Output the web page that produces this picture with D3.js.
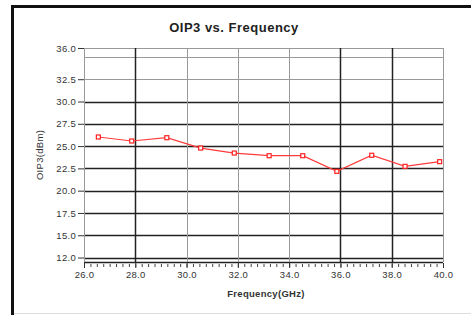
<!DOCTYPE html>
<html>
<head>
<meta charset="utf-8">
<script src="https://cdn.jsdelivr.net/npm/d3@7"></script>
<style>
html,body{margin:0;padding:0;background:#fff;}
svg{display:block;font-family:"Liberation Sans",Arial,sans-serif;}
</style>
</head>
<body>
<svg id="c" width="471" height="315"></svg>
<script>
// ---- data ----
const frequency = [26.56, 27.86, 29.23, 30.55, 31.86, 33.22, 34.53, 35.86, 37.22, 38.52, 39.87];
const oip3 = [26.02, 25.57, 25.94, 24.78, 24.22, 23.92, 23.92, 22.17, 23.97, 22.73, 23.25];
const xTickValues = [26, 28, 30, 32, 34, 36, 38, 40];
const xTickLabels = ["26.0", "28.0", "30.0", "32.0", "34.0", "36.0", "38.0", "40.0"];
const yTickValues = [12.5, 15, 17.5, 20, 22.5, 25, 27.5, 30, 32.5, 36];
const yTickLabels = ["12.0", "15.0", "17.5", "20.0", "22.5", "25.0", "27.5", "30.0", "32.5", "36.0"];
const darkVertical = [28, 36, 38];
const darkHorizontal = [12, 12.5, 15, 17.5, 20, 22.5, 25, 27.5, 30];
const extraHorizontal = [12, 35];
const title = "OIP3 vs. Frequency";
const xTitle = "Frequency(GHz)";
const yTitle = "OIP3(dBm)";

const svg = d3.select("#c");
const x = d3.scaleLinear().domain([26, 40]).range([84, 443]);
const y = d3.scaleLinear().domain([12, 36]).range([262, 48]);

// outer frame
svg.append("line").attr("x1", 12.5).attr("x2", 12.5).attr("y1", 5).attr("y2", 315)
  .attr("stroke", "#111").attr("stroke-width", 3);
svg.append("line").attr("x1", 11).attr("x2", 471).attr("y1", 6.5).attr("y2", 6.5)
  .attr("stroke", "#111").attr("stroke-width", 3);
svg.append("line").attr("x1", 14).attr("x2", 471).attr("y1", 313.5).attr("y2", 313.5)
  .attr("stroke", "#ddd").attr("stroke-width", 1);

// title
svg.append("text").attr("x", 234).attr("y", 32).attr("text-anchor", "middle")
  .attr("font-size", 13).attr("font-weight", "bold").attr("letter-spacing", 0.5)
  .attr("fill", "#222").text(title);

// horizontal grid
const hLines = yTickValues.concat(extraHorizontal);
svg.append("g").selectAll("line").data(hLines).join("line")
  .attr("x1", x(26)).attr("x2", x(40))
  .attr("y1", d => Math.round(y(d)) + 0.5).attr("y2", d => Math.round(y(d)) + 0.5)
  .attr("stroke", d => darkHorizontal.includes(d) ? "#222" : "#999")
  .attr("stroke-width", d => darkHorizontal.includes(d) ? 1.5 : 1);

// vertical grid
svg.append("g").selectAll("line").data(xTickValues).join("line")
  .attr("x1", d => Math.round(x(d)) + 0.5).attr("x2", d => Math.round(x(d)) + 0.5)
  .attr("y1", y(36)).attr("y2", y(12))
  .attr("stroke", d => darkVertical.includes(d) ? "#222" : "#999")
  .attr("stroke-width", d => darkVertical.includes(d) ? 1.5 : 1);

// y axis ticks + labels
const yAxis = d3.axisLeft(y).tickValues(yTickValues).tickSize(6).tickPadding(2)
  .tickFormat((d, i) => yTickLabels[i]);
const gy = svg.append("g").attr("transform", `translate(${x(26)},0)`).call(yAxis);
gy.select(".domain").remove();
gy.selectAll("line").attr("stroke", "#333");
gy.selectAll("text").attr("font-size", 9.5).attr("letter-spacing", 0.3).attr("fill", "#333")
  .attr("font-family", "Liberation Sans, Arial, sans-serif");

// x axis minor ticks
const minor = d3.range(26, 40.001, 0.25);
const xMinor = d3.axisBottom(x).tickValues(minor).tickSize(3).tickFormat("");
const gxm = svg.append("g").attr("transform", `translate(0,${y(12) + 2})`).call(xMinor);
gxm.select(".domain").remove();
gxm.selectAll("line").attr("stroke", "#444");

// x axis major ticks + labels
const xAxis = d3.axisBottom(x).tickValues(xTickValues).tickSize(5).tickPadding(3)
  .tickFormat((d, i) => xTickLabels[i]);
const gx = svg.append("g").attr("transform", `translate(0,${y(12) + 1})`).call(xAxis);
gx.select(".domain").remove();
gx.selectAll("line").attr("stroke", "#333");
gx.selectAll("text").attr("font-size", 9.5).attr("letter-spacing", 0.3).attr("fill", "#333")
  .attr("font-family", "Liberation Sans, Arial, sans-serif");

// axis titles
svg.append("text").attr("x", 266).attr("y", 297).attr("text-anchor", "middle")
  .attr("font-size", 9.5).attr("font-weight", "bold").attr("letter-spacing", 0.3)
  .attr("fill", "#333").text(xTitle);
svg.append("text").attr("transform", "translate(43,155) rotate(-90)")
  .attr("text-anchor", "middle").attr("font-size", 9.5).attr("letter-spacing", 0.3)
  .attr("fill", "#333").text(yTitle);

// series
const pts = frequency.map((f, i) => [f, oip3[i]]);
svg.append("path").datum(pts)
  .attr("fill", "none").attr("stroke", "#ff3b3b").attr("stroke-width", 1.2)
  .attr("d", d3.line().x(d => x(d[0])).y(d => y(d[1])));
svg.append("g").selectAll("rect").data(pts).join("rect")
  .attr("x", d => x(d[0]) - 2).attr("y", d => y(d[1]) - 2)
  .attr("width", 4).attr("height", 4)
  .attr("fill", "#fff").attr("stroke", "#ff2020").attr("stroke-width", 1.2);
</script>
</body>
</html>
